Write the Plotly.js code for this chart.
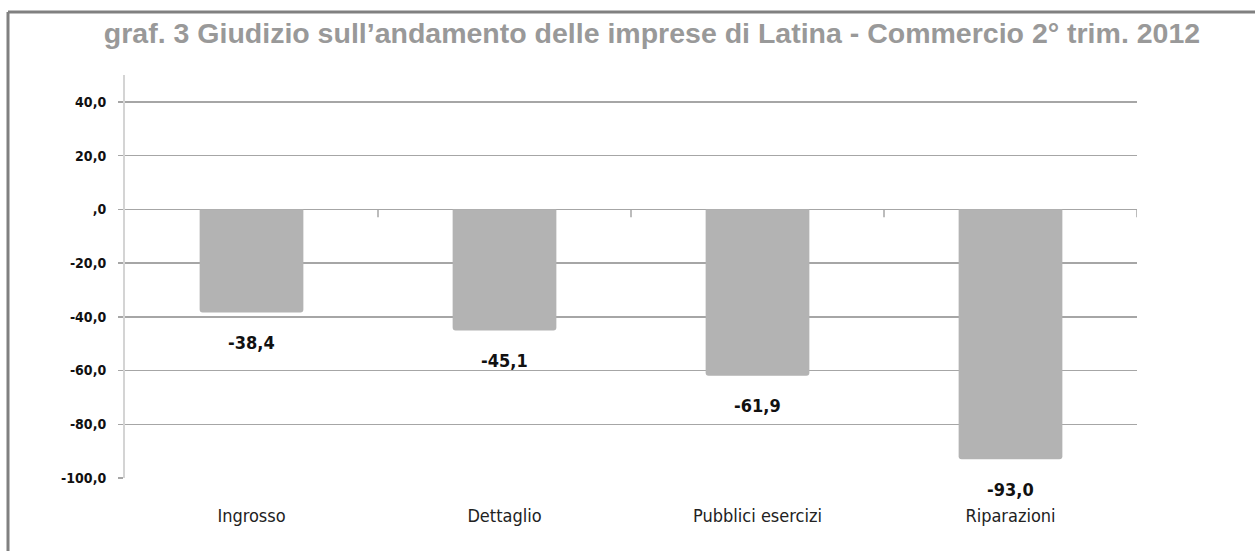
<!DOCTYPE html>
<html>
<head>
<meta charset="utf-8">
<script src="https://cdn.plot.ly/plotly-3.0.1.min.js"></script>
<style>
  html, body { margin: 0; padding: 0; background: #fff; }
  #chart { width: 1255px; height: 551px; }
</style>
</head>
<body>
<div id="chart"></div>
<script>
// Categorie e saldi (%) del commercio, 2° trimestre 2012
const categories = ['Ingrosso', 'Dettaglio', 'Pubblici esercizi', 'Riparazioni'];
const values = [-38.4, -45.1, -61.9, -93.0];
const yTickVals = [40, 20, 0, -20, -40, -60, -80, -100];
const yTickText = ['40,0', '20,0', ',0', '-20,0', '-40,0', '-60,0', '-80,0', '-100,0'];
const titleText = 'graf. 3 Giudizio sull’andamento delle imprese di Latina - Commercio 2° trim. 2012';

const W = 1255, H = 551;
const M = { l: 125, r: 118, t: 75, b: 73 };
const pw = W - M.l - M.r, ph = H - M.t - M.b;
const px = x => (x - M.l) / pw;           // pixel -> paper x
const py = y => (H - M.b - y) / ph;       // pixel -> paper y

const narrow = '"Liberation Sans Narrow", "Arial Narrow", "DejaVu Sans Condensed", sans-serif';
const fmt = v => v.toFixed(1).replace('.', ',');

const trace = {
  type: 'bar',
  x: categories,
  y: values,
  width: 0.41,
  marker: { color: '#b3b3b3', line: { width: 0 }, cornerradius: 3 },
  hoverinfo: 'skip'
};

// value labels under each bar
const annotations = categories.map((c, i) => ({
  x: c, y: values[i], xref: 'x', yref: 'y',
  text: fmt(values[i]), showarrow: false, yshift: -30,
  font: { family: narrow, size: 18, color: '#111', weight: 'bold' }
}));

// small tick marks on the zero line between categories
const shapes = categories.map((c, i) => ({
  type: 'line', xref: 'x', yref: 'y', x0: i + 0.5, x1: i + 0.5,
  ysizemode: 'pixel', yanchor: 0, y0: 0, y1: -8,
  line: { color: '#a6a6a6', width: 1.5 }
}));

// frame around the figure (top and left edges)
shapes.push(
  { type: 'line', xref: 'paper', yref: 'paper', x0: px(8), x1: px(1260), y0: py(12), y1: py(12),
    line: { color: '#808080', width: 3 } },
  { type: 'line', xref: 'paper', yref: 'paper', x0: px(8), x1: px(8), y0: py(12), y1: py(560),
    line: { color: '#808080', width: 3 } }
);

const layout = {
  width: W, height: H,
  margin: M,
  paper_bgcolor: '#fff', plot_bgcolor: '#fff',
  showlegend: false,
  title: {
    text: titleText,
    x: 652 / W, xref: 'container', xanchor: 'center',
    y: 1 - 33 / H, yanchor: 'middle',
    font: { family: '"Liberation Sans", Arial, sans-serif', size: 28.5, color: '#999999', weight: 'bold' }
  },
  xaxis: {
    type: 'category',
    range: [-0.5, categories.length - 0.5],
    showgrid: false, zeroline: false, showline: false,
    ticks: '', ticklabelstandoff: 25,
    tickfont: { family: narrow, size: 18, color: '#222' },
    fixedrange: true
  },
  yaxis: {
    range: [-100, 50],
    tickvals: yTickVals, ticktext: yTickText,
    showgrid: true, gridcolor: '#a6a6a6', gridwidth: 1.5,
    zeroline: false,
    showline: true, linecolor: '#d4d4d4', linewidth: 2,
    ticks: 'outside', ticklen: 5, tickcolor: '#a6a6a6', tickwidth: 1.5,
    ticklabelstandoff: 9,
    tickfont: { family: narrow, size: 14, color: '#111', weight: 'bold' },
    fixedrange: true
  },
  shapes: shapes,
  annotations: annotations
};

Plotly.newPlot('chart', [trace], layout, { displayModeBar: false, staticPlot: true });
</script>
</body>
</html>
